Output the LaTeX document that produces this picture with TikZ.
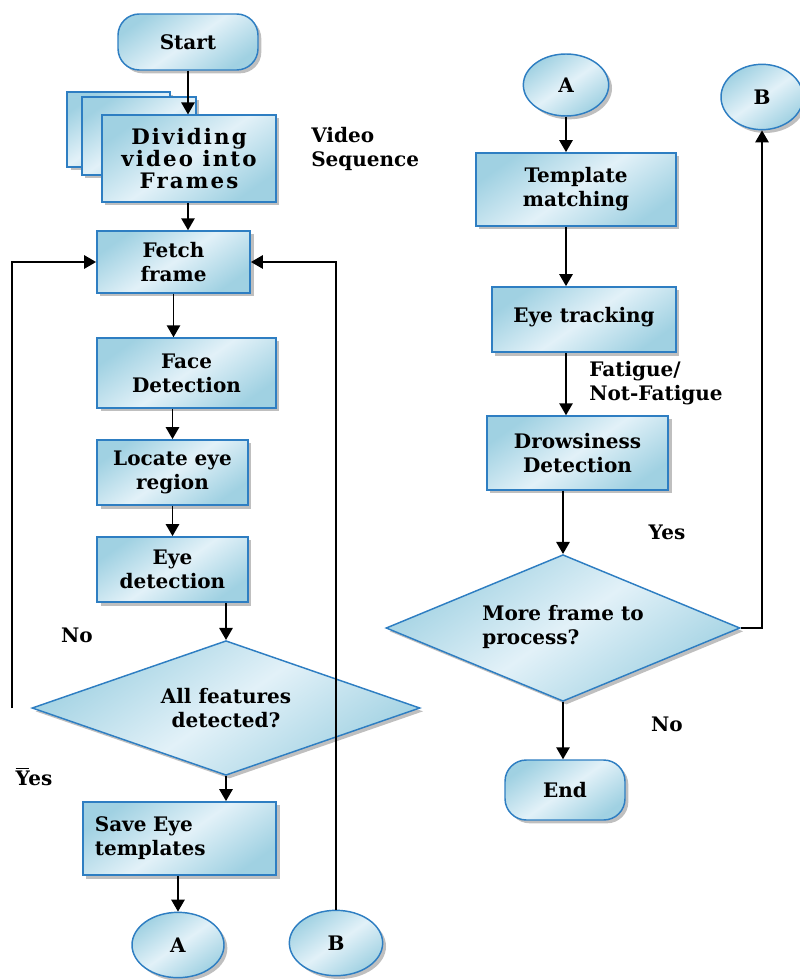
\documentclass[tikz,border=0pt]{standalone}
\usepackage{fontspec}
\setmainfont{DejaVu Serif}
\newfontfamily\widefont[LetterSpace=10]{DejaVu Serif}
\usetikzlibrary{shapes.geometric,shadows,arrows.meta}

\definecolor{boxline}{RGB}{46,126,194}
\definecolor{boxlight}{RGB}{226,241,248}
\definecolor{boxdark}{RGB}{160,209,226}
\newcommand\chartfont{\fontsize{15}{18}\selectfont\bfseries}
\newcommand\stackfont{\widefont\fontsize{16}{16.5}\selectfont\bfseries}

\tikzset{
    shadebox/.style={draw=boxline, line width=1.1pt,
        top color=boxdark, bottom color=boxdark, middle color=boxlight, shading angle=35,
        drop shadow={shadow xshift=2.5pt, shadow yshift=-2.5pt, fill=black!50, opacity=.5}},
    procbox/.style={shadebox, rectangle, align=center, inner sep=2pt},
    termbox/.style={shadebox, rectangle, rounded corners=16pt, align=center},
    connbox/.style={shadebox, ellipse, inner sep=0pt},
    decision/.style={shadebox, diamond, inner sep=0pt},
    arr/.style={-{Triangle[width=10pt,length=9pt]}, line width=1.4pt},
    lbl/.style={align=left, inner sep=0pt}
}

\begin{document}
\begin{tikzpicture}[x=0.75pt, y=-0.75pt, font=\chartfont]
    \useasboundingbox (0,0) rectangle (799,980);

    % left column
    \node[termbox, minimum width=105pt, minimum height=42pt] (start) at (188,42) {Start};
    \node[procbox, minimum width=77pt, minimum height=56pt] (stack1) at (118.5,129.5) {};
    \node[procbox, minimum width=85.5pt, minimum height=58.5pt] (stack2) at (139,136) {};
    \node[procbox, minimum width=130.5pt, minimum height=65pt, font=\stackfont] (divide) at (189,158.5) {Dividing\\video into\\Frames};
    \node[lbl, anchor=west] (vidseq) at (311,149) {Video\\Sequence};
    \node[procbox, minimum width=115pt, minimum height=46.5pt] (fetch) at (173.5,262) {Fetch\\frame};
    \node[procbox, minimum width=134pt, minimum height=52.5pt] (face) at (186.5,373) {Face\\Detection};
    \node[procbox, minimum width=113pt, minimum height=49pt] (locate) at (172.5,472.5) {Locate eye\\region};
    \node[procbox, minimum width=113pt, minimum height=49pt] (eyedet) at (172.5,569.5) {Eye\\detection};
    \node[decision, shape aspect=2.9, minimum width=291pt, minimum height=101pt, align=center] (allfeat) at (226,708) {All features\\detected?};
    \node[procbox, minimum width=145pt, minimum height=55pt, text width=127pt, align=left] (save) at (179.5,838.5) {Save Eye\\templates};
    \node[connbox, minimum width=69pt, minimum height=49pt] (conA) at (178,945) {A};
    \node[connbox, minimum width=70pt, minimum height=49pt] (conB) at (336,943) {B};
    \node (nolbl) at (77,635) {No};
    \node (yeslbl) at (34,777) {\rlap{\raisebox{12pt}{\rule{10pt}{0.8pt}}}Yes};
    \coordinate (noback) at (12,708);

    % right column
    \node[connbox, minimum width=64pt, minimum height=46.5pt] (retA) at (566,85) {A};
    \node[procbox, minimum width=150pt, minimum height=55pt] (tmpl) at (576,189.5) {Template\\matching};
    \node[procbox, minimum width=138pt, minimum height=49pt] (track) at (584,319.5) {\raisebox{7pt}{Eye tracking}};
    \node[lbl, anchor=west] (fatlbl) at (589,383) {Fatigue/\\Not-Fatigue};
    \node[procbox, minimum width=136pt, minimum height=55.5pt] (drowsy) at (577.5,453) {Drowsiness\\Detection};
    \node[decision, shape aspect=2.4, minimum width=265.5pt, minimum height=110pt] (more) at (563,628) {\begin{tabular}{@{}l@{}}More frame to\\process?\end{tabular}};
    \node[termbox, minimum width=90pt, minimum height=45pt] (finish) at (565,790) {End};
    \node[connbox, minimum width=61.5pt, minimum height=49pt] (retB) at (762,97) {B};
    \node (yes2lbl) at (667,532) {Yes};
    \node (no2lbl) at (667,724) {No};

    % left connectors
    \draw[arr] (start) -- (start |- divide.north);
    \draw[arr] (start |- divide.south) -- (start |- fetch.north);
    \draw[arr] (fetch) -- (fetch |- face.north);
    \draw[arr] (locate.north |- face.south) -- (locate.north);
    \draw[arr] (locate) -- (eyedet);
    \draw[arr] (allfeat.north |- eyedet.south) -- (allfeat.north);
    \draw[arr] (allfeat.south) -- (allfeat.south |- save.north);
    \draw[arr] (conA |- save.south) -- (conA);
    \draw[arr] (noback) |- (fetch.west);
    \draw[arr] (conB.north) |- (fetch.east);

    % right connectors
    \draw[arr] (retA) -- (retA |- tmpl.north);
    \draw[arr] (retA |- tmpl.south) -- (retA |- track.north);
    \draw[arr] (retA |- track.south) -- (retA |- drowsy.north);
    \draw[arr] (more.north |- drowsy.south) -- (more.north);
    \draw[arr] (more.south) -- (more.south |- finish.north);
    \draw[arr] (more.east) -| (retB.south);
\end{tikzpicture}
\end{document}
